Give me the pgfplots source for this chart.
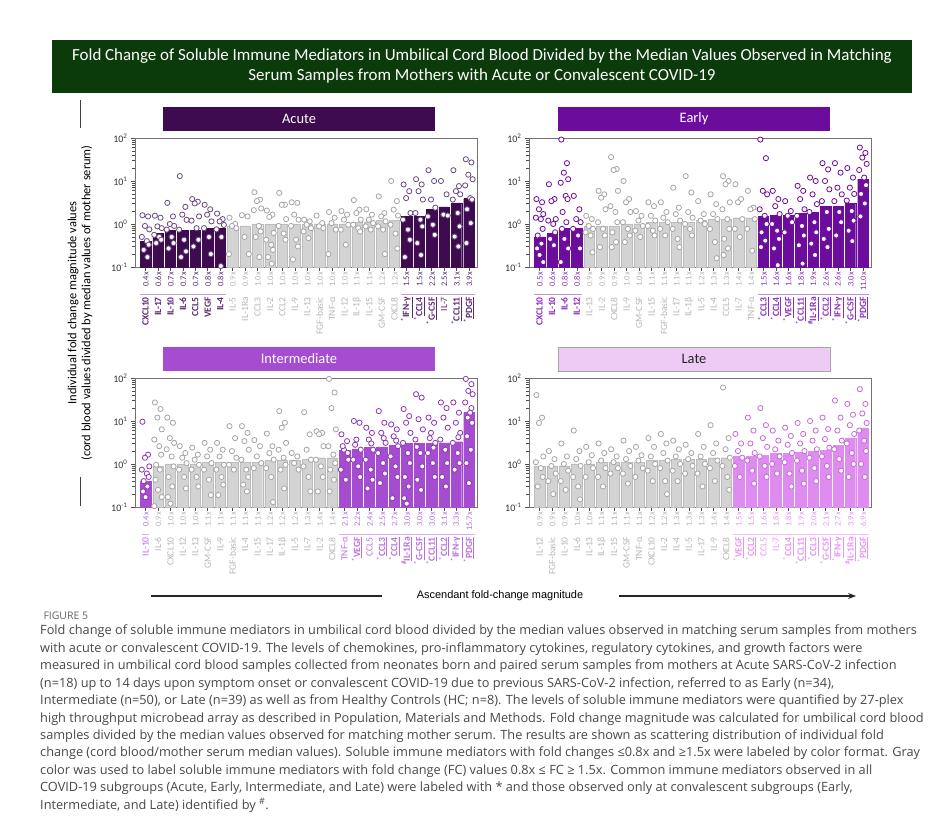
\documentclass[border=0pt]{standalone}
\usepackage{pgfplots}
\pgfplotsset{compat=1.18}
\usepackage{fontspec}
\setmainfont{Carlito}
\newfontfamily\capfont{Open Sans}
\newfontfamily\arialfont{Liberation Sans}
\usetikzlibrary{arrows.meta}
\definecolor{titlegreen}{HTML}{0B3A0B}
\definecolor{cA}{HTML}{3E0A50}
\definecolor{cE}{HTML}{6C0C9C}
\definecolor{cI}{HTML}{A64CD0}
\definecolor{cL}{HTML}{DE8CEF}
\definecolor{tL}{HTML}{EDCBF5}
\definecolor{lA}{HTML}{5A2A72}
\definecolor{lE}{HTML}{8A30BE}
\definecolor{lI}{HTML}{B96FDD}
\definecolor{lL}{HTML}{E596F1}
\definecolor{sA}{HTML}{B9A3C9}
\definecolor{sE}{HTML}{BE92DC}
\definecolor{sI}{HTML}{D9AEF0}
\definecolor{sL}{HTML}{F2BDF7}
\definecolor{glab}{HTML}{B5B5B5}
\definecolor{gbar}{HTML}{D3D3D3}
\definecolor{gedge}{HTML}{BDBDBD}
\definecolor{gmark}{HTML}{A5A5A5}
\definecolor{captext}{HTML}{474747}
\definecolor{mA}{HTML}{6B4A80}
\definecolor{mI}{HTML}{8C36B5}
\definecolor{mL}{HTML}{C56AD8}
\newcommand{\vf}{\fontsize{8.5}{9}\selectfont}
\newcommand{\lab}[3]{\textcolor{#1}{\fontsize{9.6}{10}\selectfont #2\hspace{6bp}\makebox[19bp][r]{\vf #3}}}
\newcommand{\sta}[1]{\textbf{\textsuperscript{*}\underline{#1}}}
\newcommand{\hsh}[1]{\textbf{\textsuperscript{\#}\underline{#1}}}
\newcommand{\gl}[2]{\lab{glab}{#1}{#2}}
\pgfplotsset{
  every axis/.append style={
    scale only axis, width=342bp, height=129bp,
    xmin=-0.85, xmax=26.65,
    ymin=0.1, ymax=100,
    xtick={0,...,26}, xtick pos=bottom, ytick pos=left, tick align=outside,
    ytick={0.1,1,10,100},
    yticklabels={10\textsuperscript{-1},10\textsuperscript{0},10\textsuperscript{1},10\textsuperscript{2}},
    major tick length=4bp,
    tick style={black!70, line width=0.6pt},
    axis line style={black!55, line width=0.8pt},
    clip=false,
    x tick label style={rotate=90, anchor=east, inner sep=1bp},
    y tick label style={font=\fontsize{10}{11}\selectfont, text=black!80},
  },
}
\begin{document}
\begin{tikzpicture}
\path (0,0) rectangle (941bp,827bp);
% main title
\fill[titlegreen] (52bp,734bp) rectangle (912bp,787bp);
\node[text=white, align=center, font=\fontsize{17}{20.5}\selectfont] at (482bp,761bp)
 {Fold Change of Soluble Immune Mediators in Umbilical Cord Blood Divided by the Median Values Observed in Matching\\Serum Samples from Mothers with Acute or Convalescent COVID-19};
% panel titles
\fill[cA] (163bp,696bp) rectangle (435bp,720bp);
\node[text=white, font=\fontsize{14.5}{16}\selectfont] at (299bp,708bp) {Acute};
\fill[cE] (558bp,696bp) rectangle (830bp,720bp);
\node[text=white, font=\fontsize{14.5}{16}\selectfont] at (694bp,708bp) {Early};
\fill[cI] (163bp,456bp) rectangle (435bp,480bp);
\node[text=white, font=\fontsize{14.5}{16}\selectfont] at (299bp,468bp) {Intermediate};
\filldraw[fill=tL, draw=black!35, line width=0.5pt] (558bp,456bp) rectangle (830bp,480bp);
\node[text=black!85, font=\fontsize{14.5}{16}\selectfont] at (694bp,468bp) {Late};
% y label
\node[rotate=90, align=center, font=\fontsize{12.5}{14}\selectfont] at (80bp,524bp)
 {Individual fold change magnitude values\\(cord blood values divided by median values of mother serum)};
\draw[black!75, line width=0.8pt] (80bp,699bp) -- (80bp,727bp);
\draw[black!75, line width=0.8pt] (80bp,321bp) -- (80bp,350bp);
% arrow
\node[font=\arialfont\fontsize{11}{13}\selectfont] at (500bp,231bp) {Ascendant fold-change magnitude};
\draw[line width=1.1pt, black!85] (151bp,231bp) -- (382bp,231bp);
\draw[-{Stealth[length=8bp,width=6bp]}, line width=1.1pt, black!85] (619bp,231bp) -- (856bp,231bp);
% caption
\node[anchor=west, text=black!60, font=\capfont\fontsize{10.5}{12}\selectfont] at (40bp,211bp) {FIGURE 5};
\node[anchor=north west, inner sep=0pt, align=left, text=captext, font=\capfont\fontsize{12.8}{17.5}\selectfont] at (40bp,202bp)
 {Fold change of soluble immune mediators in umbilical cord blood divided by the median values observed in matching serum samples from mothers\\
 with acute or convalescent COVID-19. The levels of chemokines, pro-inflammatory cytokines, regulatory cytokines, and growth factors were\\
 measured in umbilical cord blood samples collected from neonates born and paired serum samples from mothers at Acute SARS-CoV-2 infection\\
 (n=18) up to 14 days upon symptom onset or convalescent COVID-19 due to previous SARS-CoV-2 infection, referred to as Early (n=34),\\
 Intermediate (n=50), or Late (n=39) as well as from Healthy Controls (HC; n=8). The levels of soluble immune mediators were quantified by 27-plex\\
 high throughput microbead array as described in Population, Materials and Methods. Fold change magnitude was calculated for umbilical cord blood\\
 samples divided by the median values observed for matching mother serum. The results are shown as scattering distribution of individual fold\\
 change (cord blood/mother serum median values). Soluble immune mediators with fold changes ≤0.8x and ≥1.5x were labeled by color format. Gray\\
 color was used to label soluble immune mediators with fold change (FC) values 0.8x ≤ FC ≥ 1.5x. Common immune mediators observed in all\\
 COVID-19 subgroups (Acute, Early, Intermediate, and Late) were labeled with * and those observed only at convalescent subgroups (Early,\\
 Intermediate, and Late) identified by \textsuperscript{\#}.};

% ===== ACUTE =====
\begin{axis}[ymode=log, log origin=infty, at={(135bp,560bp)}, anchor=south west,
 xticklabels={\lab{lA}{\textbf{CXCL10}}{0.4x},\lab{lA}{\textbf{IL-17}}{0.6x},\lab{lA}{\textbf{IL-10}}{0.7x},\lab{lA}{\textbf{IL-6}}{0.7x},\lab{lA}{\textbf{CCL5}}{0.7x},\lab{lA}{\textbf{VEGF}}{0.8x},\lab{lA}{\textbf{IL-4}}{0.8x},
 \gl{IL-5}{0.9x},\gl{IL-1Ra}{0.9x},\gl{CCL3}{1.0x},\gl{IL-2}{1.0x},\gl{CCL2}{1.0x},\gl{IL-9}{1.0x},\gl{IL-13}{1.0x},\gl{FGF-basic}{1.0x},\gl{TNF-α}{1.0x},\gl{IL-12}{1.0x},\gl{IL-1β}{1.1x},\gl{IL-15}{1.1x},\gl{GM-CSF}{1.2x},\gl{CXCL8}{1.2x},
 \lab{lA}{\sta{IFN-γ}}{1.5x},\lab{lA}{\sta{CCL4}}{1.5x},\lab{lA}{\sta{G-CSF}}{2.2x},\lab{lA}{IL-7}{2.5x},\lab{lA}{\sta{CCL11}}{3.1x},\lab{lA}{\sta{PDGF}}{3.9x}}]
\addplot[ybar, bar width=0.84, bar shift=0pt, fill=cA, draw=cA] coordinates {(0,0.4)(1,0.6)(2,0.7)(3,0.7)(4,0.7)(5,0.8)(6,0.8)(21,1.5)(22,1.5)(23,2.2)(24,2.5)(25,3.1)(26,3.9)};
\addplot[ybar, bar width=0.84, bar shift=0pt, fill=gbar, draw=gedge] coordinates {(7,0.9)(8,0.9)(9,1)(10,1)(11,1)(12,1)(13,1)(14,1)(15,1)(16,1)(17,1.1)(18,1.1)(19,1.2)(20,1.2)};
\addplot[only marks, mark=*, mark size=2.6bp, mark options={fill=white, draw=gmark, line width=0.8pt}] coordinates {
(6.75,1.4)(7.2,1)(6.95,.9)(7.3,.8)(6.7,.2)
(7.75,1.6)(8.2,1.5)(7.95,.5)(8.3,.2)
(8.75,5.5)(9.2,3.7)(8.95,3.4)(9.3,2.3)(8.7,2.1)(9.1,.9)(9.25,.67)(8.85,.5)(9.15,.17)
(9.75,2.05)(10.2,1.65)(9.95,1.46)(10.3,.62)(9.7,.43)(10.1,.33)(10.25,.25)(9.85,.17)(10.15,.12)
(10.75,5.3)(11.2,2.8)(10.95,2.8)(11.3,1.3)(10.7,.9)(11.1,.6)(11.25,.43)
(11.75,3.2)(12.2,3.1)(11.95,1.65)(12.3,1.26)(11.7,.9)(12.1,.43)(12.25,.3)(11.85,.15)
(12.75,1.26)(13.2,1.15)(12.95,.96)(13.3,.8)(12.7,.67)(13.1,.47)
(13.75,1.57)(14.2,1.05)(13.95,.88)(14.3,.8)
(14.75,1.9)(15.2,1.4)(14.95,1.05)(15.3,.74)(14.7,.2)
(15.75,2)(16.2,1.65)(15.95,1.26)(16.3,.96)(15.7,.74)(16.1,.33)
(16.75,3.6)(17.2,2.15)(16.95,1.8)(17.3,1.26)(16.7,.96)(17.1,.8)(17.25,.67)
(17.75,2.2)(18.2,1.65)(17.95,1.26)(18.3,1.05)(17.7,.88)(18.1,.74)
(18.75,4.4)(19.2,1.8)(18.95,1.5)(19.3,1.15)(18.7,.88)(19.1,.74)(19.25,.2)
(19.75,10)(20.2,3.4)(19.95,2.15)(20.3,1.57)(19.7,.96)(20.1,.6)(20.25,.27)};
\addplot[only marks, mark=*, mark size=2.6bp, mark options={fill=white, draw=mA, line width=0.8pt}] coordinates {
(-.25,1.6)(.2,1.5)(-.05,.9)(.3,.75)(-.3,.5)(.1,.4)(.25,.33)(-.15,.25)(.15,.17)
(.75,1.56)(1.2,1.4)(.95,.88)(1.3,.8)(.7,.56)(1.1,.5)(1.25,.43)(.85,.36)
(1.75,3.1)(2.2,1.5)(1.95,1)(2.3,.9)(1.7,.74)(2.1,.5)(2.25,.36)(1.85,.27)
(2.75,13)(3.2,2.5)(2.95,1.65)(3.3,1.25)(2.7,.74)(3.1,.43)(3.25,.23)(2.85,.17)
(3.75,3.8)(4.2,3.3)(3.95,3)(4.3,1.5)(3.7,1.2)(4.1,.8)(4.25,.43)(3.85,.3)
(4.75,2.8)(5.2,2.2)(4.95,1.65)(5.3,1.15)(4.7,.8)(5.1,.5)(5.25,.2)
(5.75,1.75)(6.2,1.3)(5.95,1.15)(6.3,.95)(5.7,.75)(6.1,.5)(6.05,.105)
(20.75,8.3)(21.2,5.8)(20.95,4)(21.3,1.8)(20.7,1.26)(21.1,.74)(21.25,.43)(20.85,.17)
(21.75,11)(22.2,8.3)(21.95,5.8)(22.3,3.7)(21.7,1.8)(22.1,1.26)(22.25,.88)(21.85,.36)(22.15,.19)
(22.75,17.8)(23.2,10)(22.95,3.7)(23.3,2.4)(22.7,1.5)(23.1,.96)(23.25,.56)
(23.75,10)(24.2,4.9)(23.95,1.65)(24.3,1.57)
(24.75,17.8)(25.2,7.6)(24.95,5.8)(25.3,4.9)(24.7,3.7)(25.1,1.8)(25.25,.88)(24.85,.51)(25.15,.3)
(25.75,32)(26.2,27)(25.95,14)(26.3,11)(25.7,7.9)(26.1,4)(26.25,3.7)(25.85,2.2)(26.15,1.05)(25.8,.36)};
\draw[sA, line width=0.9pt] ([yshift=-27bp]axis cs:-0.45,0.1) -- ([yshift=-27bp]axis cs:6.45,0.1);
\draw[sA, line width=0.9pt] ([yshift=-27bp]axis cs:20.55,0.1) -- ([yshift=-27bp]axis cs:26.45,0.1);
\end{axis}

% ===== EARLY =====
\begin{axis}[ymode=log, log origin=infty, at={(529bp,560bp)}, anchor=south west,
 xticklabels={\lab{lE}{\textbf{CXCL10}}{0.5x},\lab{lE}{\textbf{IL-10}}{0.6x},\lab{lE}{\textbf{IL-6}}{0.8x},\lab{lE}{\textbf{IL-12}}{0.8x},
 \gl{IL-13}{0.9x},\gl{IL-2}{0.9x},\gl{CXCL8}{0.9x},\gl{IL-9}{1.0x},\gl{GM-CSF}{1.0x},\gl{IL-15}{1.1x},\gl{FGF-basic}{1.1x},\gl{IL-17}{1.1x},\gl{IL-1β}{1.1x},\gl{IL-5}{1.2x},\gl{IL-4}{1.3x},\gl{CCL5}{1.3x},\gl{IL-7}{1.4x},\gl{TNF-α}{1.4x},
 \lab{lE}{\sta{CCL3}}{1.5x},\lab{lE}{\sta{CCL4}}{1.6x},\lab{lE}{\sta{VEGF}}{1.6x},\lab{lE}{\sta{CCL11}}{1.8x},\lab{lE}{\hsh{IL-1Ra}}{1.9x},\lab{lE}{\sta{CCL2}}{2.6x},\lab{lE}{\sta{IFN-γ}}{2.6x},\lab{lE}{\sta{G-CSF}}{3.0x},\lab{lE}{\sta{PDGF}}{11.0x}}]
\addplot[ybar, bar width=0.84, bar shift=0pt, fill=cE, draw=cE] coordinates {(0,.5)(1,.6)(2,.8)(3,.8)(18,1.5)(19,1.6)(20,1.6)(21,1.8)(22,1.9)(23,2.6)(24,2.6)(25,3.0)(26,11.0)};
\addplot[ybar, bar width=0.84, bar shift=0pt, fill=gbar, draw=gedge] coordinates {(4,.9)(5,.9)(6,.9)(7,1)(8,1)(9,1.1)(10,1.1)(11,1.1)(12,1.1)(13,1.2)(14,1.3)(15,1.3)(16,1.4)(17,1.4)};
\addplot[only marks, mark=*, mark size=2.6bp, mark options={fill=white, draw=gmark, line width=0.8pt}] coordinates {
(3.75,1.55)(4.2,1.3)(3.95,.9)(4.3,.77)(3.7,.64)(4.1,.54)(4.25,.22)
(4.75,5.9)(5.2,4.9)(4.95,4.1)(5.3,2.2)(4.7,1.1)(5.1,.77)(5.25,.54)(4.85,.29)
(5.75,36)(6.2,19)(5.95,18)(6.3,5.9)(5.7,2.6)(6.1,1.9)(6.25,1.1)(5.85,.64)(6.15,.38)(5.8,.29)
(6.75,10)(7.2,3.8)(6.95,3.2)(7.3,1.9)(6.7,1.1)(7.1,.77)(7.25,.54)(6.85,.38)
(7.75,2)(8.2,1.55)(7.95,1.2)(8.3,.9)(7.7,.7)(8.1,.5)
(8.75,3.2)(9.2,2.6)(8.95,1.55)(9.3,1.2)(8.7,.9)(9.1,.7)(9.25,.54)
(9.75,3.2)(10.2,1.9)(9.95,1.4)(10.3,1.1)(9.7,.77)(10.1,.54)
(10.75,7)(11.2,2.4)(10.95,1.7)(11.3,1.2)(10.7,.77)(11.1,.45)(11.25,.29)
(11.75,13)(12.2,5.4)(11.95,1.9)(12.3,1.4)(11.7,1)(12.1,.77)(12.25,.54)
(12.75,3.4)(13.2,1.7)(12.95,1.2)(13.3,1)
(13.75,4.9)(14.2,2.9)(13.95,1.7)(14.3,1.3)(13.7,.77)(14.1,.38)(14.25,.16)
(14.75,13)(15.2,10)(14.95,8.4)(15.3,3.2)(14.7,2.2)(15.1,1.3)(15.25,.77)(14.85,.45)(15.15,.27)(14.8,.19)
(15.75,8.4)(16.2,3.8)(15.95,3.2)(16.3,1.3)(15.7,.77)(16.1,.5)
(16.75,5.9)(17.2,2.4)(16.95,2.2)(17.3,1.3)(16.7,.77)(17.1,.24)};
\addplot[only marks, mark=*, mark size=2.6bp, mark options={fill=white, draw=cE, line width=0.8pt}] coordinates {
(-.25,3.8)(.2,3.2)(-.05,2.2)(.3,1.7)(-.3,1.4)(.1,1.3)(.25,.77)(-.15,.54)(.15,.35)(-.2,.27)(0,.19)(.3,.13)
(.75,8.4)(1.2,3.8)(.95,3.4)(1.3,1.3)(.7,1.2)(1.1,1)(1.25,.64)(.85,.45)(1.15,.32)
(1.75,92)(2.2,26)(1.95,15.6)(2.3,11)(1.7,9.1)(2.1,4.5)(2.25,3.8)(1.85,1.9)(2.15,1.1)(1.8,.77)(2,.45)(2.3,.27)(1.7,.13)
(2.75,4.5)(3.2,2.2)(2.95,1.3)(3.3,1.1)(2.7,.77)(3.1,.54)(3.25,.27)
(17.75,92)(18.2,34)(17.95,5.9)(18.3,4.9)(17.7,2.2)(18.1,1.55)(18.25,1)(17.85,.64)(18.15,.41)(17.8,.29)
(18.75,5.9)(19.2,3.8)(18.95,2.6)(19.3,1.7)(18.7,1)(19.1,.7)(19.25,.45)(18.85,.27)(19.15,.11)
(19.75,3.4)(20.2,2)(19.95,1.55)(20.3,1.1)(19.7,.64)
(20.75,7.7)(21.2,5.9)(20.95,3.8)(21.3,2.2)(20.7,1.55)(21.1,.9)(21.25,.54)(20.85,.32)(21.15,.12)
(21.75,12)(22.2,10)(21.95,4.9)(22.3,2.9)(21.7,1.9)(22.1,1.1)(22.25,.64)(21.85,.35)(22.15,.19)
(22.75,26)(23.2,18.6)(22.95,10)(23.3,6.4)(22.7,3.4)(23.1,1.9)(23.25,.77)(22.85,.45)(23.15,.29)
(23.75,26)(24.2,15.6)(23.95,7)(24.3,4.9)(23.7,3.4)(24.1,1.9)(24.25,1.1)(23.85,.54)
(24.75,20)(25.2,12)(24.95,7)(25.3,5)(24.7,3.5)(25.1,2)(25.25,1.2)(24.85,.7)(25.15,.4)
(25.75,60)(26.2,45)(25.95,35)(26.3,25)(25.7,18)(26.1,12)(26.25,8)(25.85,5)(26.15,3)(25.8,1.5)};
\draw[sE, line width=0.9pt] ([yshift=-27bp]axis cs:-0.45,0.1) -- ([yshift=-27bp]axis cs:3.45,0.1);
\draw[sE, line width=0.9pt] ([yshift=-27bp]axis cs:17.55,0.1) -- ([yshift=-27bp]axis cs:26.45,0.1);
\end{axis}

% ===== INTERMEDIATE =====
\begin{axis}[ymode=log, log origin=infty, at={(135bp,320bp)}, anchor=south west,
 xticklabels={\lab{lI}{IL-10}{0.4x},
 \gl{IL-6}{0.9x},\gl{CXCL10}{1.0x},\gl{IL-12}{1.0x},\gl{IL-13}{1.0x},\gl{GM-CSF}{1.1x},\gl{IL-9}{1.1x},\gl{FGF-basic}{1.1x},\gl{IL-4}{1.1x},\gl{IL-15}{1.1x},\gl{IL-17}{1.2x},\gl{IL-1β}{1.2x},\gl{IL-5}{1.2x},\gl{IL-7}{1.3x},\gl{IL-2}{1.4x},\gl{CXCL8}{1.4x},
 \lab{lI}{TNF-α}{2.1x},\lab{lI}{\sta{VEGF}}{2.2x},\lab{lI}{CCL5}{2.4x},\lab{lI}{\sta{CCL3}}{2.5x},\lab{lI}{\sta{CCL4}}{2.7x},\lab{lI}{\hsh{IL-1Ra}}{3.0x},\lab{lI}{\sta{G-CSF}}{3.0x},\lab{lI}{\sta{CCL11}}{3.0x},\lab{lI}{\sta{CCL2}}{3.1x},\lab{lI}{\sta{IFN-γ}}{3.3x},\lab{lI}{\sta{PDGF}}{15.7x}}]
\addplot[ybar, bar width=0.84, bar shift=0pt, fill=cI, draw=cI] coordinates {(0,.4)(16,2.1)(17,2.2)(18,2.4)(19,2.5)(20,2.7)(21,3.0)(22,3.0)(23,3.0)(24,3.1)(25,3.3)(26,15.7)};
\addplot[ybar, bar width=0.84, bar shift=0pt, fill=gbar, draw=gedge] coordinates {(1,.9)(2,1)(3,1)(4,1)(5,1.1)(6,1.1)(7,1.1)(8,1.1)(9,1.1)(10,1.2)(11,1.2)(12,1.2)(13,1.3)(14,1.4)(15,1.4)};
\addplot[only marks, mark=*, mark size=2.6bp, mark options={fill=white, draw=gmark, line width=0.8pt}] coordinates {
(.75,27)(1.2,19)(.95,12)(1.3,6.4)(.7,3.7)(1.1,2.6)(1.25,1.65)(.85,.96)(1.15,.74)(.8,.43)(1,.25)(1.3,.17)(.7,.105)
(1.75,12)(2.2,9.1)(1.95,4)(2.3,3.1)(1.7,2.2)(2.1,1.5)(2.25,.88)(1.85,.5)(2.15,.3)(1.8,.17)(2,.12)
(2.75,2.6)(3.2,1.8)(2.95,1.4)(3.3,1.05)(2.7,.74)(3.1,.5)(3.25,.27)
(3.75,2.4)(4.2,1.65)(3.95,1.26)(4.3,.96)(3.7,.74)(4.1,.5)(4.25,.3)
(4.75,3.1)(5.2,2.15)(4.95,1.5)(5.3,1.05)(4.7,.74)(5.1,.43)(5.25,.19)
(5.75,3.1)(6.2,2.15)(5.95,1.5)(6.3,.96)(5.7,.74)(6.1,.5)(6.25,.33)(5.85,.19)
(6.75,7.6)(7.2,4)(6.95,2)(7.3,1.4)(6.7,.96)(7.1,.74)
(7.75,7.6)(8.2,5.3)(7.95,3.4)(8.3,2.15)(7.7,1.26)(8.1,.74)(8.25,.5)(7.85,.33)(8.15,.23)
(8.75,3.6)(9.2,2.6)(8.95,1.5)(9.3,1.05)(8.7,.8)
(9.75,5.1)(10.2,2.6)(9.95,1.8)(10.3,1.26)(9.7,.8)(10.1,.5)(10.25,.13)
(10.75,17)(11.2,9.1)(10.95,7)(11.3,3.1)(10.7,2.15)(11.1,1.4)(11.25,.96)(10.85,.74)(11.15,.27)
(11.75,1.8)(12.2,1.5)(11.95,1.05)(12.3,.74)
(12.75,16)(13.2,4.9)(12.95,2.15)(13.3,1.26)(12.7,.88)(13.1,.5)(13.25,.23)
(13.75,5.8)(14.2,5.3)(13.95,4.9)(14.3,2.6)(13.7,1.26)(14.1,.88)(14.25,.5)(13.85,.23)
(14.75,95)(15.2,46)(14.95,20)(15.3,6.4)(14.7,2.6)(15.1,1.65)(15.25,1.05)(14.85,.74)(15.15,.43)(14.8,.23)};
\addplot[only marks, mark=*, mark size=2.6bp, mark options={fill=white, draw=mI, line width=0.8pt}] coordinates {
(-.25,9.6)(.2,1.65)(-.05,1.4)(.3,.88)(-.3,.74)(.1,.6)(.25,.5)(-.15,.4)(.15,.3)(-.2,.23)(0,.17)
(15.75,4.9)(16.2,3.4)(15.95,2.15)(16.3,1.26)(15.7,.74)(16.1,.43)(16.25,1.8)(15.85,2.6)
(16.75,10)(17.2,9.1)(16.95,3.7)(17.3,2.15)(16.7,1.26)(17.1,.88)(17.25,.5)(16.85,2.8)
(17.75,7)(18.2,5.3)(17.95,3.7)(18.3,2.15)(17.7,1.26)(18.1,.74)(18.25,.43)(17.85,.27)(18.15,3)
(18.75,17)(19.2,9.1)(18.95,5.3)(19.3,3.1)(18.7,1.8)(19.1,1.05)(19.25,.6)(18.85,.36)(19.15,4)
(19.75,8.3)(20.2,6.4)(19.95,4.4)(20.3,2.6)(19.7,1.5)(20.1,.88)(20.25,.5)(19.85,.16)(20.15,3.5)
(20.75,19)(21.2,13)(20.95,9.1)(21.3,5.3)(20.7,3.1)(21.1,1.8)(21.25,1.05)(20.85,.5)(21.15,.3)(20.8,.16)(21,.12)
(21.75,42)(22.2,35)(21.95,11)(22.3,6.4)(21.7,3.7)(22.1,1.8)(22.25,.88)(21.85,.43)(22.15,.25)(21.8,2.5)
(22.75,12)(23.2,9.1)(22.95,5.3)(23.3,3.1)(22.7,1.8)(23.1,1.05)(23.25,.5)(22.85,4)(23.15,2.4)
(23.75,27)(24.2,20)(23.95,12)(24.3,7)(23.7,3.7)(24.1,2.15)(24.25,1.05)(23.85,.5)(24.15,.3)
(24.75,27)(25.2,15.6)(24.95,9.1)(25.3,5.3)(24.7,3.1)(25.1,1.8)(25.25,1.05)(24.85,.74)(25.15,4.2)
(25.75,95)(26.2,72)(25.95,50)(26.3,42)(25.7,27)(26.1,15.6)(26.25,9.1)(25.85,4.4)(26.15,2.15)(25.8,1.05)(26,.36)(26.2,20)(25.9,12)};
\draw[sI, line width=0.9pt] ([yshift=-27bp]axis cs:-0.3,0.1) -- ([yshift=-27bp]axis cs:0.3,0.1);
\draw[sI, line width=0.9pt] ([yshift=-27bp]axis cs:15.55,0.1) -- ([yshift=-27bp]axis cs:26.45,0.1);
\end{axis}

% ===== LATE =====
\begin{axis}[ymode=log, log origin=infty, at={(529bp,320bp)}, anchor=south west,
 xticklabels={\gl{IL-12}{0.9x},\gl{FGF-basic}{0.9x},\gl{IL-10}{0.9x},\gl{IL-6}{1.0x},\gl{IL-13}{1.0x},\gl{IL-1β}{1.1x},\gl{IL-15}{1.1x},\gl{GM-CSF}{1.1x},\gl{TNF-α}{1.1x},\gl{CXCL10}{1.2x},\gl{IL-2}{1.2x},\gl{IL-4}{1.3x},\gl{IL-5}{1.3x},\gl{IL-17}{1.3x},\gl{IL-9}{1.4x},\gl{CXCL8}{1.4x},
 \lab{lL}{\sta{VEGF}}{1.5x},\lab{lL}{\sta{CCL2}}{1.5x},\lab{lL}{CCL5}{1.6x},\lab{lL}{IL-7}{1.8x},\lab{lL}{\sta{CCL4}}{1.8x},\lab{lL}{\sta{CCL11}}{1.9x},\lab{lL}{\sta{CCL3}}{2.0x},\lab{lL}{\sta{G-CSF}}{2.1x},\lab{lL}{\sta{IFN-γ}}{2.7x},\lab{lL}{\hsh{IL-1Ra}}{3.9x},\lab{lL}{\sta{PDGF}}{6.9x}}]
\addplot[ybar, bar width=0.84, bar shift=0pt, fill=cL, draw=cL] coordinates {(16,1.5)(17,1.5)(18,1.6)(19,1.8)(20,1.8)(21,1.9)(22,2.0)(23,2.1)(24,2.7)(25,3.9)(26,6.9)};
\addplot[ybar, bar width=0.84, bar shift=0pt, fill=gbar, draw=gedge] coordinates {(0,.9)(1,.9)(2,.9)(3,1)(4,1)(5,1.1)(6,1.1)(7,1.1)(8,1.1)(9,1.2)(10,1.2)(11,1.3)(12,1.3)(13,1.3)(14,1.4)(15,1.4)};
\addplot[only marks, mark=*, mark size=2.6bp, mark options={fill=white, draw=gmark, line width=0.8pt}] coordinates {
(-.25,40)(.2,12)(-.05,9)(.3,1.5)(-.3,1.1)(.1,.8)(.25,.5)(-.15,.3)
(.75,2)(1.2,1.3)(.95,.9)(1.3,.6)(.7,.4)(1.1,.2)
(1.75,3)(2.2,1.5)(1.95,1)(2.3,.7)(1.7,.4)(2.1,.25)
(2.75,6)(3.2,2)(2.95,1.3)(3.3,.9)(2.7,.5)(3.1,.3)(3.25,.15)
(3.75,2.5)(4.2,1.6)(3.95,1.1)(4.3,.8)(3.7,.5)
(4.75,3)(5.2,1.8)(4.95,1.2)(5.3,.8)(4.7,.5)(5.1,.3)
(5.75,2.2)(6.2,1.5)(5.95,1.1)(6.3,.8)(5.7,.6)
(6.75,3.5)(7.2,2)(6.95,1.3)(7.3,.9)(6.7,.6)(7.1,.35)
(7.75,2.5)(8.2,1.6)(7.95,1.2)(8.3,.8)(7.7,.5)
(8.75,4)(9.2,2.5)(8.95,1.5)(9.3,1)(8.7,.7)(9.1,.4)
(9.75,5)(10.2,3)(9.95,1.8)(10.3,1.2)(9.7,.8)(10.1,.4)(10.25,.2)
(10.75,3.5)(11.2,2.2)(10.95,1.5)(11.3,1)(10.7,.7)(11.1,.4)
(11.75,2.8)(12.2,1.8)(11.95,1.3)(12.3,.9)(11.7,.6)
(12.75,5)(13.2,2.5)(12.95,1.5)(13.3,1)(12.7,.6)(13.1,.3)
(13.75,8)(14.2,3)(13.95,1.8)(14.3,1.2)(13.7,.8)(14.1,.4)
(14.75,60)(15.2,4)(14.95,2.2)(15.3,1.4)(14.7,.9)(15.1,.5)(15.25,.25)};
\addplot[only marks, mark=*, mark size=2.6bp, mark options={fill=white, draw=mL, line width=0.8pt}] coordinates {
(15.75,5)(16.2,3)(15.95,2)(16.3,1.4)(15.7,.9)(16.1,.5)
(16.75,12)(17.2,6)(16.95,3)(17.3,1.8)(16.7,1.2)(17.1,.7)(17.25,.35)
(17.75,20)(18.2,8)(17.95,4)(18.3,2.5)(17.7,1.5)(18.1,.9)(18.25,.5)
(18.75,6)(19.2,3.5)(18.95,2.2)(19.3,1.5)(18.7,1)(19.1,.6)
(19.75,7)(20.2,4.5)(19.95,2.8)(20.3,1.8)(19.7,1.1)(20.1,.6)(20.25,.3)
(20.75,9)(21.2,5)(20.95,3)(21.3,2)(20.7,1.2)(21.1,.7)(21.25,.35)
(21.75,10)(22.2,6)(21.95,3.5)(22.3,2.2)(21.7,1.4)(22.1,.8)(22.25,.4)
(22.75,12)(23.2,6.5)(22.95,3.8)(23.3,2.4)(22.7,1.5)(23.1,.9)(23.25,.5)
(23.75,30)(24.2,12)(23.95,6)(24.3,3.5)(23.7,2.2)(24.1,1.3)(24.25,.7)
(24.75,25)(25.2,14)(24.95,8)(25.3,5)(24.7,3)(25.1,1.8)(25.25,1)(24.85,.5)
(25.75,55)(26.2,25)(25.95,15)(26.3,9)(25.7,6)(26.1,3.5)(26.25,2)(25.85,1)(26.15,.5)};
\draw[sL, line width=0.9pt] ([yshift=-27bp]axis cs:15.55,0.1) -- ([yshift=-27bp]axis cs:26.45,0.1);
\end{axis}
\end{tikzpicture}
\end{document}
